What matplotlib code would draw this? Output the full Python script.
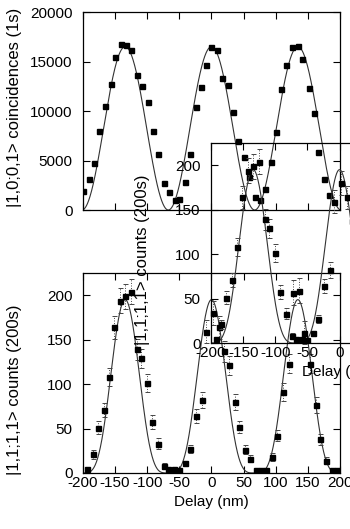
import numpy as np
import matplotlib
matplotlib.use("Agg")
import matplotlib.pyplot as plt

plt.rcParams['font.family'] = ['Liberation Sans', 'DejaVu Sans']
plt.rcParams['font.size'] = 11
plt.rcParams['axes.unicode_minus'] = False

# panel superior: coincidencias |1,0;0,1> en 1 s
delay_top = [-200, -191, -183, -175, -166, -157, -150, -141, -133, -125,
             -116, -108, -99, -91, -83, -74, -66, -57, -50, -41,
             -33, -24, -16, -8, 0, 9, 17, 26, 34, 42,
             50, 59, 67, 76, 83, 92, 101, 108, 116, 125,
             134, 141, 151, 159, 166, 175, 183]
counts_top = [1950, 3130, 4750, 7980, 10540, 12760, 15490, 16770, 16630, 16130,
              13600, 12490, 10880, 8010, 5660, 2760, 1820, 1010, 1080, 2790,
              5660, 10370, 12390, 14650, 16460, 16160, 13370, 12630, 9900, 6970,
              5390, 3360, 1280, 1010, 2150, 4850, 7850, 12190, 14650, 16430,
              16600, 15220, 12290, 9770, 5890, 3130, 1520]

# panel inferior: cuentas |1,1;1,1> en 200 s
delay_bot = [-193, -185, -176, -168, -159, -151, -143, -134, -125, -116,
             -109, -100, -92, -83, -74, -67, -58, -50, -41, -33,
             -24, -15, -8, 2, 11, 20, 27, 36, 43, 52,
             60, 69, 77, 85, 94, 102, 111, 120, 127, 136,
             144, 153, 162, 169, 178, 187, 195]
counts_bot = [5, 21, 51, 71, 108, 164, 194, 199, 204, 139,
              129, 101, 57, 33, 8, 5, 5, 3, 11, 27,
              64, 82, 159, 180, 164, 137, 121, 80, 52, 26,
              16, 3, 3, 3, 18, 42, 91, 123, 203, 205,
              158, 123, 76, 38, 14, 3, 3]
err_bot = [2, 5, 7, 8, 10, 13, 14, 14, 14, 12,
           11, 10, 8, 6, 3, 2, 2, 2, 3, 5,
           8, 9, 13, 13, 13, 12, 11, 9, 7, 5,
           4, 2, 2, 2, 4, 6, 10, 11, 14, 14,
           13, 11, 9, 6, 4, 2, 2]

# parametros de los ajustes
period = 134.4
amp_top = 16500
amp_bot = 195

delay_ticks = [-200, -150, -100, -50, 0, 50, 100, 150, 200]
top_yticks = [0, 5000, 10000, 15000, 20000]
bot_yticks = [0, 50, 100, 150, 200]

d = np.linspace(-200, 200, 801)
fit_top = amp_top * np.cos(np.pi * d / period) ** 2
fit_bot = amp_bot * np.cos(np.pi * d / period) ** 4


def style_axes(ax):
    ax.set_facecolor('none')
    ax.tick_params(direction='in', top=True, right=True, length=5, width=0.8)
    ax.tick_params(axis='y', pad=7.5)
    ax.tick_params(axis='x', pad=2.5)
    for s in ax.spines.values():
        s.set_linewidth(0.9)
    ax.set_xlim(-200, 200)
    ax.set_xticks(delay_ticks)


def draw_bottom(ax):
    style_axes(ax)
    ax.plot(d, fit_bot, color='#333333', lw=0.8)
    eb = ax.errorbar(delay_bot, counts_bot, yerr=err_bot, fmt='s', color='black',
                     ms=3.6, ecolor='#444444', elinewidth=0.7, capsize=1.8,
                     capthick=0.7)
    eb[2][0].set_linestyle(':')
    ax.set_ylim(0, 225)
    ax.set_yticks(bot_yticks)
    ax.set_xlabel('Delay (nm)', labelpad=3)
    ax.set_ylabel('|1,1;1,1> counts (200s)', fontsize=12)
    ax.yaxis.set_label_coords(-0.237, 0.415)


fig = plt.figure(figsize=(3.5, 5.29), dpi=100)

ax1 = fig.add_axes([0.2371, 0.6030, 0.7343, 0.3743])
style_axes(ax1)
ax1.plot(d, fit_top, color='#333333', lw=0.8)
ax1.plot(delay_top, counts_top, 's', color='black', ms=3.6)
ax1.set_ylim(0, 20000)
ax1.set_yticks(top_yticks)
ax1.set_xticklabels([])
ax1.set_ylabel('|1,0;0,1> coincidences (1s)', fontsize=12)
ax1.yaxis.set_label_coords(-0.237, 0.52)

ax2 = fig.add_axes([0.2371, 0.1059, 0.7343, 0.3781])
draw_bottom(ax2)

# copia desplazada del panel inferior
ax3 = fig.add_axes([0.6029, 0.3516, 0.7343, 0.3781])
draw_bottom(ax3)

fig.savefig('out.png', dpi=100)
